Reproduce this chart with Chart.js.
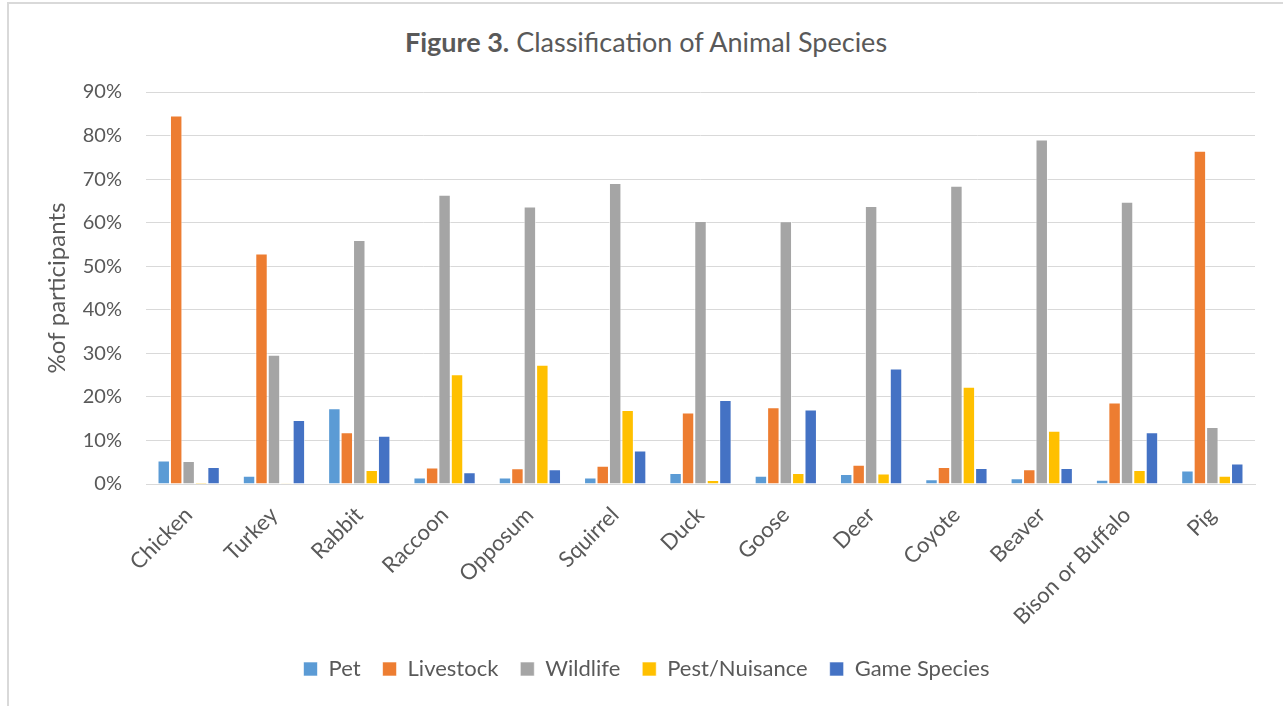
<!DOCTYPE html>
<html>
<head>
<meta charset="utf-8">
<title>Figure 3. Classification of Animal Species</title>
<script src="https://cdn.jsdelivr.net/npm/chart.js@4.4.1/dist/chart.umd.min.js"></script>
<style>
  body { margin: 0; background: #fff; overflow: hidden; }
  #frame {
    position: absolute; left: 7px; top: 2px; width: 1300px; height: 703px;
    border-left: 2px solid #d9d9d9; border-top: 2px solid #d9d9d9;
  }
  #title {
    position: absolute; left: 0; top: 26px; width: 1292px; text-align: center;
    font-family: Lato, "Open Sans", sans-serif; font-size: 27px; line-height: 32px; color: #595959;
  }
  #wrap { position: absolute; left: 0; top: 0; width: 1283px; height: 706px; }
</style>
</head>
<body>
<div id="frame"></div>
<div id="title"><b>Figure 3.</b> Classification of Animal Species</div>
<div id="wrap"><canvas id="speciesChart"></canvas></div>
<script>
// values, % of participants
const species = ['Chicken', 'Turkey', 'Rabbit', 'Raccoon', 'Opposum', 'Squirrel', 'Duck',
  'Goose', 'Deer', 'Coyote', 'Beaver', 'Bison or Buffalo', 'Pig'];
const pet        = [5.4, 1.9, 17.4, 1.5, 1.5, 1.5, 2.5, 1.9, 2.3, 1.1, 1.3, 1.0, 3.1];
const livestock  = [84.6, 52.9, 11.9, 3.8, 3.6, 4.2, 16.4, 17.6, 4.4, 3.9, 3.4, 18.7, 76.5];
const wildlife   = [5.3, 29.7, 56.0, 66.4, 63.7, 69.1, 60.4, 60.3, 63.8, 68.5, 79.1, 64.8, 13.1];
const pest       = [0.4, 0.2, 3.2, 25.2, 27.4, 17.0, 0.9, 2.5, 2.4, 22.3, 12.2, 3.2, 1.9];
const game       = [3.9, 14.7, 11.1, 2.7, 3.4, 7.7, 19.3, 17.1, 26.5, 3.7, 3.7, 11.9, 4.7];
const yTicks     = [0, 10, 20, 30, 40, 50, 60, 70, 80, 90];

const textColor = '#595959';
const font = 'Lato, "Open Sans", sans-serif';

const series = [
  { label: 'Pet', data: pet, color: '#5b9bd5' },
  { label: 'Livestock', data: livestock, color: '#ed7d31' },
  { label: 'Wildlife', data: wildlife, color: '#a5a5a5' },
  { label: 'Pest/Nuisance', data: pest, color: '#ffc000' },
  { label: 'Game Species', data: game, color: '#4472c4' }
];

// legend sits centred on the whole figure, not on the padded chart box
const shiftLegend = {
  id: 'shiftLegend',
  afterLayout(chart) {
    if (chart.legend) {
      chart.legend.left += 19;
      chart.legend.right += 19;
    }
  }
};

const ctx = document.getElementById('speciesChart').getContext('2d');
new Chart(ctx, {
  type: 'bar',
  data: {
    labels: species,
    datasets: series.map(s => ({
      label: s.label,
      data: s.data,
      backgroundColor: s.color,
      borderColor: 'rgba(255,255,255,0.6)',
      borderWidth: 1,
      categoryPercentage: 0.73,
      barPercentage: 1.0
    }))
  },
  plugins: [shiftLegend],
  options: {
    responsive: true,
    maintainAspectRatio: false,
    animation: false,
    layout: { padding: { left: 0, right: 28, top: 92, bottom: 16 } },
    plugins: {
      title: { display: false },
      tooltip: { enabled: false },
      legend: {
        position: 'bottom',
        labels: {
          boxWidth: 14,
          boxHeight: 14,
          padding: 22,
          color: textColor,
          font: { family: font, size: 22 }
        }
      }
    },
    scales: {
      x: {
        grid: { display: false, drawTicks: false },
        border: { display: true, color: '#d9d9d9', width: 1 },
        ticks: {
          autoSkip: false,
          minRotation: 45,
          maxRotation: 45,
          padding: 18,
          color: textColor,
          font: { family: font, size: 22 }
        },
        afterFit: scale => { scale.height = 152; }
      },
      y: {
        min: 0,
        max: 90,
        afterBuildTicks: scale => { scale.ticks = yTicks.map(v => ({ value: v })); },
        grid: { color: '#d9d9d9', lineWidth: 1, drawTicks: false },
        border: { display: false },
        ticks: {
          padding: 24,
          color: textColor,
          font: { family: font, size: 20 },
          callback: v => v + '%'
        },
        title: {
          display: true,
          text: '%of participants',
          color: textColor,
          font: { family: font, size: 24 },
          padding: { top: 43, bottom: 0 }
        },
        afterFit: scale => { scale.width = 146; }
      }
    }
  }
});
</script>
</body>
</html>
